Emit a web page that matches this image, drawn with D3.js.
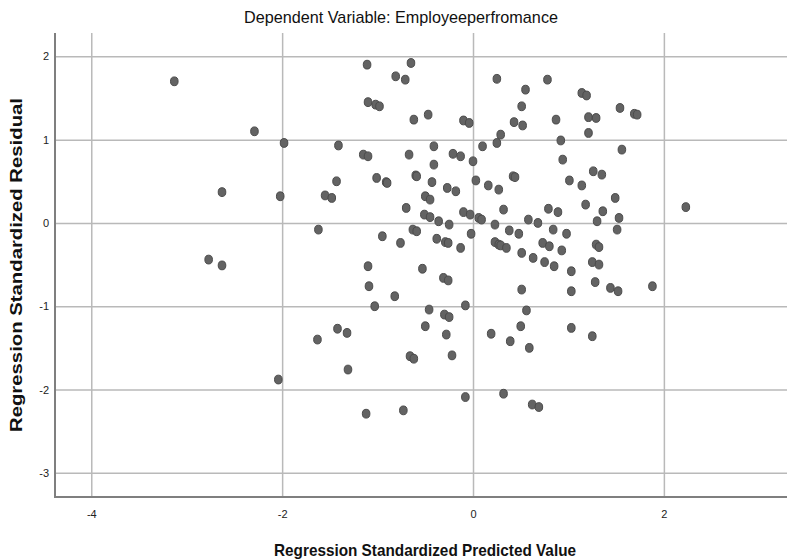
<!DOCTYPE html>
<html>
<head>
<meta charset="utf-8">
<script src="https://cdn.jsdelivr.net/npm/d3@7"></script>
<style>
  body { margin: 0; background: #fff; }
  text { font-family: "Liberation Sans", Arial, sans-serif; }
</style>
</head>
<body>
<div id="chart"></div>
<script>
// Regression standardized predicted value (x) and residual (y)
const predicted = [
  -3.13, -2.29, -1.98, -2.63, -2.02, -2.77, -2.63, -2.04,
  -1.11, -0.65, -0.81, -0.71, -1.10, -1.02, -0.98, -0.62, -0.47, -0.10, -0.04, 0.25,
  0.55, 0.51, 0.43, 0.52, 0.29, 0.25, 0.10, -1.41, -1.15, -1.10, -0.67, -0.41, -0.21,
  -0.13, 0.00, -0.41, -0.60, -0.59, -1.01, -0.91, -0.90, -1.43, -1.55, -1.48, -0.43,
  -0.27, -0.18, 0.03, 0.42, 0.44, 0.16, 0.27, -0.50, -0.45, -0.70, -0.51, -0.45, -0.36,
  -0.25, -0.10, -0.03, 0.06, 0.09, 0.32, 0.23, 0.58, -1.62, -0.63, -0.59, -0.95, -0.38,
  -0.29, -0.26, -0.02, 0.38, 0.48, -0.76, -0.13, 0.23, 0.27, 0.29, 0.35, 0.51, -1.10, -0.53,
  0.78, 1.14, 1.19, 0.87, 1.21, 1.29, 1.54, 1.69, 1.72, 1.21, 0.92, 1.56, 0.94, 1.26,
  1.35, 1.01, 1.14, 1.49, 1.18, 0.79, 0.89, 1.36, 1.53, 0.68, 1.30, 2.23, 0.84, 0.98,
  1.51, 0.73, 0.80, 1.29, 1.32, 0.93, 0.63, 0.75, 0.85, 1.25, 1.32, 1.03,
  0.51, 1.03, 1.28, 1.44, 1.52, 1.88, 0.56, 0.50, 1.03, 1.25, 0.59, 0.62, 0.69,
  -1.09, -0.31, -0.26, -0.82, -1.03, -0.46, -0.08, -0.30, -0.25, -0.50, -0.28, -1.42,
  -1.32, -1.63, 0.19, 0.39, -0.66, -0.62, -0.22, -1.31, -0.08, 0.32, -1.12, -0.73
];
const residual = [
  1.70, 1.10, 0.96, 0.37, 0.32, -0.44, -0.51, -1.88,
  1.90, 1.92, 1.76, 1.72, 1.45, 1.42, 1.40, 1.24, 1.30, 1.23, 1.20, 1.73,
  1.60, 1.40, 1.21, 1.17, 1.06, 0.96, 0.92, 0.93, 0.82, 0.80, 0.82, 0.92, 0.83,
  0.80, 0.74, 0.70, 0.57, 0.56, 0.54, 0.49, 0.48, 0.50, 0.33, 0.30, 0.49,
  0.42, 0.38, 0.51, 0.56, 0.55, 0.45, 0.40, 0.32, 0.28, 0.18, 0.10, 0.07, 0.02,
  -0.02, 0.13, 0.10, 0.06, 0.04, 0.16, -0.02, 0.04, -0.08, -0.08, -0.10, -0.16, -0.19,
  -0.23, -0.24, -0.13, -0.09, -0.13, -0.24, -0.30, -0.23, -0.26, -0.27, -0.30, -0.36, -0.52, -0.55,
  1.72, 1.56, 1.53, 1.24, 1.27, 1.26, 1.38, 1.31, 1.30, 1.08, 0.99, 0.88, 0.76, 0.62,
  0.58, 0.51, 0.45, 0.30, 0.22, 0.17, 0.13, 0.14, 0.06, 0.00, 0.02, 0.19, -0.08, -0.13,
  -0.08, -0.24, -0.28, -0.26, -0.29, -0.33, -0.42, -0.47, -0.52, -0.47, -0.50, -0.58,
  -0.80, -0.82, -0.71, -0.78, -0.82, -0.76, -1.05, -1.24, -1.26, -1.36, -1.50, -2.18, -2.21,
  -0.76, -0.66, -0.69, -0.88, -1.00, -1.04, -0.99, -1.10, -1.13, -1.24, -1.34, -1.27,
  -1.32, -1.40, -1.33, -1.42, -1.60, -1.63, -1.59, -1.76, -2.09, -2.05, -2.29, -2.25
];
const xTicks = [-4, -2, 0, 2];
const yTicks = [-3, -2, -1, 0, 1, 2];

const width = 787, height = 560;
const margin = { top: 33, right: 0, bottom: 63, left: 55 };

const svg = d3.select("#chart")
    .append("svg")
    .attr("width", width)
    .attr("height", height);

// Scales
const x = d3.scaleLinear()
    .domain([-4.38, 3.29])
    .range([margin.left, width - margin.right]);

const y = d3.scaleLinear()
    .domain([-3.29, 2.28])
    .range([height - margin.bottom, margin.top]);

// Grid lines
svg.append("g")
    .attr("transform", `translate(0,${height - margin.bottom})`)
    .call(d3.axisBottom(x).tickValues(xTicks).tickSize(-(height - margin.top - margin.bottom)).tickFormat(""))
    .call(g => g.select(".domain").remove())
    .selectAll("line")
    .attr("stroke", "#b9b9b9")
    .attr("stroke-width", 1.5);

svg.append("g")
    .attr("transform", `translate(${margin.left},0)`)
    .call(d3.axisLeft(y).tickValues(yTicks).tickSize(-(width - margin.left - margin.right)).tickFormat(""))
    .call(g => g.select(".domain").remove())
    .selectAll("line")
    .attr("stroke", "#b9b9b9")
    .attr("stroke-width", 1.5);

// Tick labels
svg.append("g")
    .attr("transform", `translate(0,${height - margin.bottom})`)
    .call(d3.axisBottom(x).tickValues(xTicks).tickSize(0).tickPadding(13).tickFormat(d => d < 0 ? "-" + Math.abs(d) : d))
    .call(g => g.select(".domain").remove())
    .selectAll("text")
    .attr("font-size", 11)
    .attr("fill", "#222");

svg.append("g")
    .attr("transform", `translate(${margin.left},0)`)
    .call(d3.axisLeft(y).tickValues(yTicks).tickSize(0).tickPadding(6).tickFormat(d => d < 0 ? "-" + Math.abs(d) : d))
    .call(g => g.select(".domain").remove())
    .selectAll("text")
    .attr("font-size", 11)
    .attr("fill", "#222");

// Axis lines
svg.append("line")
    .attr("x1", margin.left).attr("x2", margin.left)
    .attr("y1", margin.top).attr("y2", height - margin.bottom)
    .attr("stroke", "#7f7f7f").attr("stroke-width", 2);

svg.append("line")
    .attr("x1", margin.left - 1).attr("x2", width)
    .attr("y1", height - margin.bottom).attr("y2", height - margin.bottom)
    .attr("stroke", "#7f7f7f").attr("stroke-width", 2);

// Points
svg.append("g")
    .selectAll("ellipse")
    .data(predicted.map((d, i) => ({ px: d, res: residual[i] })))
    .enter()
    .append("ellipse")
    .attr("cx", d => x(d.px))
    .attr("cy", d => y(d.res))
    .attr("rx", 3.8)
    .attr("ry", 4.4)
    .attr("fill", "#636363")
    .attr("stroke", "#4b4b4b")
    .attr("stroke-width", 1);

// Titles
svg.append("text")
    .attr("x", 401).attr("y", 23)
    .attr("text-anchor", "middle")
    .attr("font-size", 17)
    .attr("textLength", 314)
    .attr("lengthAdjust", "spacingAndGlyphs")
    .attr("fill", "#111")
    .text("Dependent Variable: Employeeperfromance");

svg.append("text")
    .attr("x", 425).attr("y", 556)
    .attr("text-anchor", "middle")
    .attr("font-size", 17)
    .attr("font-weight", "bold")
    .attr("textLength", 302)
    .attr("lengthAdjust", "spacingAndGlyphs")
    .attr("fill", "#111")
    .text("Regression Standardized Predicted Value");

svg.append("text")
    .attr("transform", "translate(22,265) rotate(-90)")
    .attr("text-anchor", "middle")
    .attr("font-size", 17)
    .attr("font-weight", "bold")
    .attr("textLength", 334)
    .attr("lengthAdjust", "spacingAndGlyphs")
    .attr("fill", "#111")
    .text("Regression Standardized Residual");
</script>
</body>
</html>
